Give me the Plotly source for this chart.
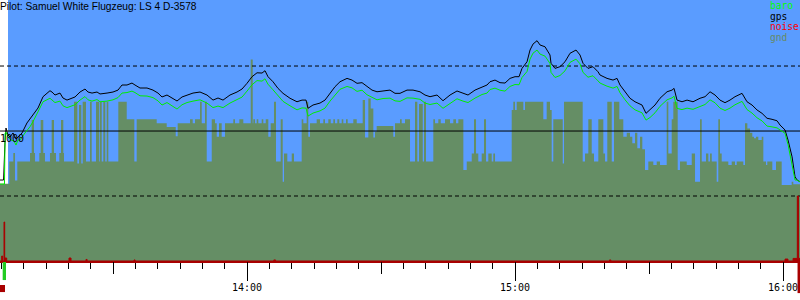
import pandas as pd
import plotly.graph_objects as go

# ---------------- data (times = minutes after 13:00, altitudes in m) ----------------
TITLE = "Pilot: Samuel White Flugzeug: LS 4 D-3578"
T_START, T_END = 4.70, 183.80          # visible time window
SKY_START = 6.49                       # first GPS fix
TAKEOFF_T = (5.30, 6.04)
LANDING_T = (183.25, 183.80)
ENGINE_T = (4.70, 5.82)

gnd_t = [4.70, 6.78, 7.68, 8.06, 8.57, 11.42, 11.80, 12.31, 12.54, 13.50, 13.81, 14.39, 14.77, 15.89,
         16.27, 16.79, 17.24, 17.98, 18.36, 18.87, 19.03, 21.27, 22.01, 22.39, 22.90, 23.21, 23.95,
         24.85, 25.23, 26.19, 26.93, 27.09, 27.47, 27.83, 28.27, 28.59, 28.95, 31.19, 33.07, 34.77,
         35.30, 39.78, 42.02, 44.04, 44.48, 47.24, 47.84, 48.36, 49.48, 49.86, 50.60, 50.98, 52.10,
         52.83, 53.22, 53.73, 54.33, 55.07, 56.93, 57.31, 58.28, 59.17, 60.83, 61.28, 61.41, 61.79,
         62.17, 62.53, 63.29, 63.65, 64.19, 64.77, 65.30, 66.04, 66.49, 67.54, 67.99, 68.28, 69.02,
         70.01, 70.52, 72.24, 72.60, 73.36, 73.72, 74.10, 75.60, 76.34, 77.08, 77.46, 78.20, 78.74,
         79.32, 79.70, 80.22, 80.66, 81.20, 81.56, 82.16, 82.54, 83.80, 84.56, 85.90, 86.42, 87.16,
         87.69, 88.28, 88.66, 89.03, 92.75, 93.13, 94.25, 94.63, 95.37, 96.49, 97.61, 98.13, 98.51,
         99.34, 99.63, 100.07, 101.71, 102.09, 102.83, 103.37, 104.33, 105.45, 106.19, 106.79, 107.31,
         108.43, 109.19, 110.31, 110.82, 111.27, 111.78, 112.54, 113.06, 113.51, 114.02, 114.78,
         115.14, 115.52, 119.26, 119.62, 119.99, 120.38, 121.86, 122.24, 126.33, 127.09, 127.83,
         128.21, 128.57, 130.68, 130.97, 135.15, 135.67, 136.41, 137.17, 137.68, 138.65, 139.77,
         140.15, 140.66, 141.65, 142.16, 143.35, 144.24, 145.01, 145.74, 146.26, 146.86, 147.38,
         147.98, 148.50, 149.10, 149.84, 150.96, 151.72, 152.46, 153.96, 154.32, 155.08, 155.44,
         156.42, 156.94, 158.44, 159.56, 160.30, 161.42, 161.80, 162.76, 163.28, 163.66, 164.04,
         165.15, 165.51, 165.89, 166.27, 167.75, 168.51, 169.25, 169.63, 171.11, 171.49, 172.01,
         172.61, 173.12, 173.50, 173.95, 174.47, 175.23, 175.59, 176.19, 176.48, 177.60, 178.43,
         179.70, 181.94, 182.30, 183.80]
gnd_alt = [595, 765, 830, 620, 765, 830, 1085, 830, 765, 830, 1085, 830, 765, 830,
           1085, 830, 765, 830, 1085, 830, 765, 1225, 751, 1200, 751, 1225, 765,
           1225, 765, 1225, 765, 1225, 765, 1225, 765, 1225, 765, 1225, 1090, 765,
           1090, 1060, 1030, 960, 1060, 1090, 1060, 1090, 1225, 1060, 1225, 765, 1090,
           1060, 956, 1060, 956, 1060, 1090, 1060, 1090, 1060, 1551, 1060, 1090, 1060,
           1090, 1060, 1090, 1060, 1090, 956, 1060, 1225, 765, 1090, 610, 828, 765,
           828, 765, 1090, 1060, 1225, 956, 1060, 1090, 1060, 1090, 1060, 1090, 1060,
           1090, 1060, 1090, 1060, 1090, 1060, 1090, 1060, 1090, 1060, 1238, 950, 1251,
           1174, 950, 995, 1038, 956, 1060, 1090, 1060, 1090, 765, 1225, 765, 1208,
           765, 1225, 765, 1090, 1060, 1090, 1060, 1090, 1060, 1090, 1060, 1090,
           700, 765, 828, 1090, 828, 765, 828, 1090, 765, 828, 765,
           828, 765, 1162, 1225, 1162, 1225, 1162, 1225, 1090, 1225, 1162,
           765, 1090, 751, 1225, 765, 828, 1090, 828, 765, 1090, 828,
           765, 1225, 765, 1225, 1090, 956, 987, 956, 905, 987, 867,
           956, 859, 700, 765, 738, 765, 738, 1225, 828, 1090, 1225,
           700, 765, 738, 828, 610, 1090, 765, 828, 765, 828, 765,
           610, 1090, 828, 765, 738, 765, 738, 765, 738, 1060, 1020,
           987, 956, 944, 956, 931, 956, 765, 738, 765, 700, 765,
           585, 610, 590, 590]

gps_t = [4.70, 5.50, 5.80, 6.04, 6.49, 6.94, 7.61, 8.28, 9.18, 9.63, 10.74, 12.09, 13.21, 14.33,
         15.89, 16.34, 17.01, 18.13, 18.80, 19.70, 20.82, 21.49, 22.61, 23.73, 24.40, 25.30, 26.42,
         27.09, 28.66, 30.00, 31.12, 32.01, 33.13, 34.25, 34.92, 36.04, 37.61, 38.95, 40.07, 40.97,
         42.09, 43.21, 44.33, 45.45, 46.57, 47.91, 49.48, 51.04, 52.39, 53.51, 54.63, 56.19, 57.76,
         58.88, 60.00, 61.12, 62.24, 63.36, 64.03, 64.70, 65.82, 66.94, 68.06, 69.63, 71.19, 72.31,
         73.21, 73.66, 74.77, 76.34, 77.46, 78.58, 79.70, 80.82, 82.39, 83.51, 84.63, 85.75, 86.86,
         87.98, 89.10, 90.45, 92.01, 93.13, 94.25, 95.82, 97.16, 98.73, 99.85, 100.97, 102.54,
         103.88, 105.45, 107.01, 108.36, 109.48, 111.04, 112.61, 113.73, 114.40, 115.52, 116.64,
         117.76, 118.88, 120.00, 120.90, 121.57, 122.69, 123.36, 124.03, 124.93, 125.60, 126.72,
         127.83, 128.06, 128.95, 130.07, 131.19, 132.31, 133.66, 134.55, 135.22, 136.34, 137.46,
         138.58, 139.03, 140.60, 141.94, 142.84, 143.51, 144.63, 145.74, 146.86, 148.43, 149.33,
         150.22, 151.34, 152.46, 154.03, 155.15, 155.60, 156.27, 157.39, 158.51, 159.85, 161.42,
         162.54, 163.66, 164.78, 165.89, 167.01, 168.13, 169.25, 170.82, 171.94, 173.06, 174.18,
         175.30, 176.42, 177.54, 178.66, 179.33, 180.45, 181.12, 182.02, 182.69, 183.14, 183.80]
gps_alt = [623, 623, 900, 1023, 969, 954, 985, 938, 969, 985, 1062, 1123, 1177, 1264,
           1310, 1300, 1277, 1292, 1254, 1238, 1254, 1262, 1300, 1323, 1300, 1292, 1300,
           1285, 1292, 1300, 1315, 1354, 1354, 1369, 1354, 1331, 1331, 1315, 1292, 1262,
           1277, 1254, 1231, 1262, 1277, 1292, 1300, 1277, 1238, 1254, 1238, 1277, 1300,
           1323, 1367, 1418, 1448, 1446, 1464, 1418, 1379, 1328, 1290, 1252, 1225, 1238,
           1238, 1175, 1200, 1215, 1238, 1290, 1341, 1379, 1405, 1392, 1367, 1372, 1341,
           1315, 1302, 1308, 1315, 1290, 1290, 1315, 1315, 1302, 1277, 1264, 1277,
           1233, 1277, 1308, 1292, 1277, 1315, 1341, 1354, 1379, 1392, 1372,
           1369, 1405, 1418, 1418, 1482, 1533, 1623, 1669, 1695, 1662, 1648,
           1585, 1521, 1482, 1495, 1533, 1598, 1623, 1585, 1521, 1482, 1495,
           1456, 1431, 1405, 1392, 1405, 1354, 1302, 1252, 1225, 1200, 1136,
           1162, 1200, 1252, 1302, 1315, 1328, 1238, 1225, 1238, 1225, 1252,
           1264, 1302, 1277, 1238, 1218, 1238, 1264, 1290, 1225, 1200, 1162,
           1136, 1098, 1090, 1079, 1046, 1008, 931, 802, 648, 623, 610]

baro_t = [4.70, 5.70, 5.85, 6.04, 6.49, 7.16, 7.83, 8.28, 8.73, 9.18, 10.30, 11.42, 12.09, 13.21,
          14.33, 15.89] + gps_t[15:]
baro_alt = [592, 592, 985, 992, 954, 931, 923, 892, 931, 931, 985, 1033, 1072, 1148,
            1225, 1252,
            1240, 1219, 1230, 1194, 1180, 1192, 1202, 1238, 1265, 1240, 1230, 1242,
            1225, 1230, 1240, 1257, 1292, 1296, 1307, 1296, 1271, 1269, 1257, 1232, 1200,
            1219, 1194, 1169, 1202, 1219, 1230, 1240, 1215, 1180, 1192, 1180, 1215, 1240,
            1261, 1307, 1356, 1388, 1384, 1402, 1360, 1317, 1268, 1228, 1194, 1163, 1178,
            1176, 1115, 1138, 1155, 1176, 1230, 1279, 1321, 1343, 1332, 1305, 1314, 1279,
            1257, 1240, 1250, 1253, 1232, 1228, 1255, 1253, 1244, 1215, 1204, 1215,
            1175, 1215, 1248, 1230, 1219, 1253, 1281, 1292, 1319, 1330, 1314,
            1307, 1343, 1358, 1356, 1412, 1458, 1553, 1599, 1623, 1592, 1576,
            1520, 1451, 1412, 1427, 1463, 1528, 1553, 1517, 1451, 1414, 1425,
            1386, 1369, 1345, 1330, 1343, 1294, 1240, 1194, 1163, 1140, 1084,
            1104, 1140, 1190, 1240, 1255, 1268, 1174, 1165, 1176, 1167, 1190,
            1204, 1240, 1217, 1176, 1158, 1176, 1202, 1228, 1165, 1138, 1102,
            1078, 1038, 1032, 1024, 1008, 983, 896, 752, 623, 623, 608]

noise_t = [4.70, 5.08, 5.30, 5.60, 5.75, 6.20, 20.15, 20.60, 23.95, 24.20, 34.70, 34.95, 66.00,
           66.40, 141.15, 141.45, 180.45, 181.10, 182.25, 183.20, 183.45, 183.80]
noise_val = [0, 38, 0, 300, 23, 0, 23, 0, 12, 0, 8, 0, 8,
             0, 8, 0, 15, 0, 20, 500, 20, 0]

GRID_DASHED = [500, 1500]
GRID_SOLID = [1000]
Y_MAX = 2008
LEGEND = [("baro", "#00ff00"), ("gps", "#000000"), ("noise", "#ff0000"), ("gnd", "#668a66")]

# ---------------- styles ----------------
SKY = "#5a9cff"
GND = "#658e65"
BARO = "#00ee00"
NOISE = "#a80000"
MONO = "DejaVu Sans Mono"

BASE = pd.Timestamp("2023-07-15 13:00:00")


def tt(mins):
    return [BASE + pd.Timedelta(minutes=m) for m in mins]


x_range = tt([T_START, T_END])

fig = go.Figure()
fig.add_trace(go.Scatter(x=tt(gnd_t), y=gnd_alt, mode="lines", line_shape="hv",
                         line=dict(width=0, color=GND), fill="tozeroy", fillcolor=GND,
                         hoverinfo="skip", showlegend=False))
for lvl in GRID_DASHED:
    fig.add_trace(go.Scatter(x=x_range, y=[lvl, lvl], mode="lines",
                             line=dict(color="black", width=1, dash="4px,3px"),
                             hoverinfo="skip", showlegend=False))
for lvl in GRID_SOLID:
    fig.add_trace(go.Scatter(x=x_range, y=[lvl, lvl], mode="lines",
                             line=dict(color="black", width=1),
                             hoverinfo="skip", showlegend=False))
fig.add_trace(go.Scatter(x=tt(noise_t), y=noise_val, mode="lines", line_shape="hv",
                         line=dict(width=1, color=NOISE), fill="tozeroy", fillcolor=NOISE,
                         hoverinfo="skip", showlegend=False))
fig.add_trace(go.Scatter(x=tt(gps_t), y=gps_alt, mode="lines",
                         line=dict(width=1, color="black"), showlegend=False))
fig.add_trace(go.Scatter(x=tt(baro_t), y=baro_alt, mode="lines",
                         line=dict(width=1, color=BARO), showlegend=False))
# helper trace for the 30-minute tick axis
fig.add_trace(go.Scatter(x=[], y=[], xaxis="x2", showlegend=False, hoverinfo="skip"))

shapes = [
    dict(type="rect", xref="x", yref="paper", x0=tt([SKY_START])[0], x1=x_range[1],
         y0=0, y1=1, fillcolor=SKY, line=dict(width=0), layer="below"),
    dict(type="rect", xref="x", yref="paper", x0=tt([TAKEOFF_T[0]])[0], x1=tt([TAKEOFF_T[1]])[0],
         y0=-0.004, y1=-0.073, fillcolor="#22cc22", line=dict(width=0)),
    dict(type="rect", xref="x", yref="paper", x0=tt([ENGINE_T[0]])[0], x1=tt([ENGINE_T[1]])[0],
         y0=-0.092, y1=-0.119, fillcolor=NOISE, line=dict(width=0)),
    dict(type="rect", xref="x", yref="paper", x0=tt([LANDING_T[0]])[0], x1=tt([LANDING_T[1]])[0],
         y0=0, y1=-0.123, fillcolor=NOISE, line=dict(width=0)),
]

annotations = [
    dict(text=TITLE, x=0, y=1, xref="paper", yref="paper", xanchor="left", yanchor="top",
         showarrow=False, font=dict(family="Liberation Sans", size=10.2, color="black"),
         xshift=-2, yshift=1),
    dict(text="1000", x=0, y=GRID_SOLID[0], xref="paper", yref="y", xanchor="left",
         yanchor="top", showarrow=False, font=dict(family=MONO, size=10, color="black"),
         xshift=-2),
]
legend_y = [5.5, 16.5, 27.0, 37.8]
for (name, col), py in zip(LEGEND, legend_y):
    annotations.append(dict(text=name, x=770 / 800, y=(261 - py) / 261, xref="paper", yref="paper",
                            xanchor="left", yanchor="middle", showarrow=False, borderpad=0,
                            font=dict(family=MONO, size=9.6, color=col), xshift=-1))

fig.update_layout(
    width=800, height=300, autosize=False,
    margin=dict(l=0, r=0, t=0, b=39, pad=0),
    paper_bgcolor="white", plot_bgcolor="white",
    shapes=shapes, annotations=annotations,
    xaxis=dict(type="date", range=x_range, tickformat="%H:%M",
               tick0=tt([60])[0], dtick=3600000,
               ticks="outside", ticklen=18, tickwidth=1, tickcolor="black",
               ticklabelstandoff=-2,
               tickfont=dict(family=MONO, size=10, color="black"),
               minor=dict(dtick=300000, tick0=tt([60])[0], ticks="outside", ticklen=6,
                          tickwidth=1, tickcolor="black"),
               showline=True, linecolor=NOISE, linewidth=2,
               showgrid=False, zeroline=False, fixedrange=True),
    xaxis2=dict(type="date", range=x_range, overlaying="x", anchor="y", side="bottom",
                tick0=tt([30])[0], dtick=1800000, ticks="outside", ticklen=12, tickwidth=1,
                tickcolor="black", showticklabels=False, showgrid=False, showline=False,
                zeroline=False, fixedrange=True),
    yaxis=dict(range=[0, Y_MAX], showticklabels=False, showgrid=False, zeroline=False,
               showline=False, ticks="", fixedrange=True),
    showlegend=False,
)

fig.write_html("out.html")
